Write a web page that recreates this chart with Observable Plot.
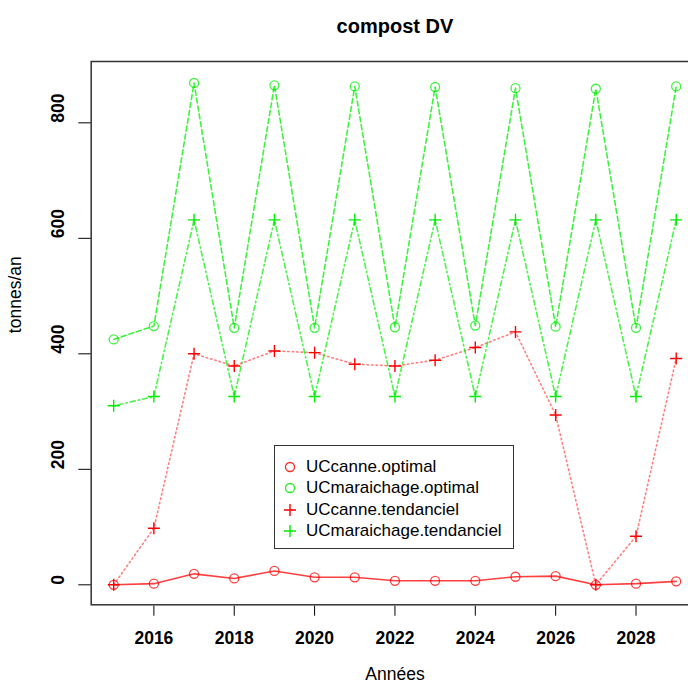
<!DOCTYPE html>
<html><head><meta charset="utf-8">
<script src="https://cdn.jsdelivr.net/npm/d3@7"></script>
<script src="https://cdn.jsdelivr.net/npm/@observablehq/plot@0.6"></script>
<style>
body{margin:0;background:#fff;font-family:"Liberation Sans",Arial,sans-serif}
#wrap{position:relative;width:688px;height:690px;overflow:hidden}
#legend{position:absolute;left:274px;top:445px;width:238px;height:102px;border:1.5px solid #333;background:#fff}
#legend .row{position:absolute;left:0;height:20px;line-height:20px;font-size:17px;color:#000;white-space:nowrap}
#legend svg{position:absolute;left:5px;top:0}
#legend span{position:absolute;left:31px;top:0}
</style></head><body><div id="wrap"></div>
<script>
// ---- data ----
const years = [2015,2016,2017,2018,2019,2020,2021,2022,2023,2024,2025,2026,2027,2028,2029];
const canneOptimal = [0,2,19,11,24,13,13,7,7,7,14,15,0,2,6];
const maraichageOptimal = [425,448,869,445,865,445,863,446,862,449,860,447,859,445,863];
const canneTendanciel = [0,98,400,379,405,402,382,379,389,411,438,294,0,84,392];
const maraichageTendanciel = [310,326,632,326,632,326,632,326,632,326,632,326,632,326,632];
const seriesNames = ["UCcanne.optimal","UCmaraichage.optimal","UCcanne.tendanciel","UCmaraichage.tendanciel"];
const xTicks = [2016,2018,2020,2022,2024,2026,2028];
const yTicks = [0,200,400,600,800];
const title = "compost DV";
const xLabel = "Années";
const yLabel = "tonnes/an";

const RED = "#ff0000", GREEN = "#00ee00";
const seriesDefs = [
  {name: seriesNames[0], values: canneOptimal, color: RED, dash: null, sym: "circle", op: 0.75},
  {name: seriesNames[1], values: maraichageOptimal, color: GREEN, dash: "5,3", sym: "circle", op: 0.75},
  {name: seriesNames[2], values: canneTendanciel, color: RED, dash: "1.5,3", sym: "plus", op: 0.5},
  {name: seriesNames[3], values: maraichageTendanciel, color: GREEN, dash: "1.5,3,5,3", sym: "plus", op: 0.7}
];
const tables = seriesDefs.map(s => years.map((y, i) => ({year: y, value: s.values[i]})));

const plusSymbol = {
  draw(ctx, size) {
    const r = Math.sqrt(size / Math.PI);
    ctx.moveTo(-r, 0); ctx.lineTo(r, 0);
    ctx.moveTo(0, -r); ctx.lineTo(0, r);
  }
};

const marks = [];
seriesDefs.forEach((s, k) => {
  marks.push(Plot.line(tables[k], {x: "year", y: "value", stroke: s.color, strokeWidth: 1.6,
    strokeOpacity: s.op, strokeDasharray: s.dash || undefined}));
});
seriesDefs.forEach((s, k) => {
  if (s.sym === "circle")
    marks.push(Plot.dot(tables[k], {x: "year", y: "value", r: 4.5, stroke: s.color, strokeWidth: 1.3, strokeOpacity: 0.75, fill: "none"}));
  else
    marks.push(Plot.dot(tables[k], {x: "year", y: "value", r: 6, symbol: plusSymbol, stroke: s.color, strokeWidth: 1.4, fill: "none"}));
});

const FONT = "Liberation Sans, Arial, sans-serif";
const chart = Plot.plot({
  width: 688, height: 690,
  marginLeft: 90.7, marginRight: -10.2, marginTop: 61, marginBottom: 85.7,
  style: {fontFamily: FONT, background: "#fff", overflow: "hidden"},
  x: {domain: [2014.44, 2029.56], label: null},
  y: {domain: [-34.6, 906.2], label: null},
  marks: [
    ...marks,
    Plot.frame({stroke: "#333", strokeWidth: 1.5}),
    Plot.axisX({ticks: xTicks, tickFormat: d => String(d), tickSize: 10, tickPadding: 15.5, dy: 1.4,
      fontSize: 17.5, fontWeight: "bold", fill: "#000", label: null}),
    Plot.axisY({ticks: yTicks, tickSize: 12.4, tickFormat: () => "", label: null}),
    Plot.text(yTicks, {y: d => d, text: d => String(d), frameAnchor: "left", dx: -32.7, rotate: -90,
      fontSize: 17.5, fontWeight: "bold", fill: "#000"}),
    Plot.text([yLabel], {frameAnchor: "left", dx: -75.7, rotate: -90, fontSize: 17.5, fill: "#000"}),
    Plot.text([xLabel], {frameAnchor: "bottom", dy: 74.7, fontSize: 17.5, fill: "#000"}),
    Plot.text([title], {frameAnchor: "top", dy: -43, fontSize: 20, fontWeight: "bold", fill: "#000"})
  ]
});
const wrap = document.getElementById("wrap");
wrap.appendChild(chart);

// legend overlay
const legend = document.createElement("div");
legend.id = "legend";
seriesDefs.forEach((s, i) => {
  const row = document.createElement("div");
  row.className = "row";
  row.style.top = (10.5 + i * 21.5) + "px";
  const sym = s.sym === "circle"
    ? `<circle cx="10" cy="10" r="4.5" fill="none" stroke="${s.color}" stroke-width="1.3" stroke-opacity="0.85"/>`
    : `<path d="M4,10H16M10,4V16" stroke="${s.color}" stroke-width="1.4" fill="none"/>`;
  row.innerHTML = `<svg width="20" height="20">${sym}</svg><span>${s.name}</span>`;
  legend.appendChild(row);
});
wrap.appendChild(legend);
</script></body></html>
